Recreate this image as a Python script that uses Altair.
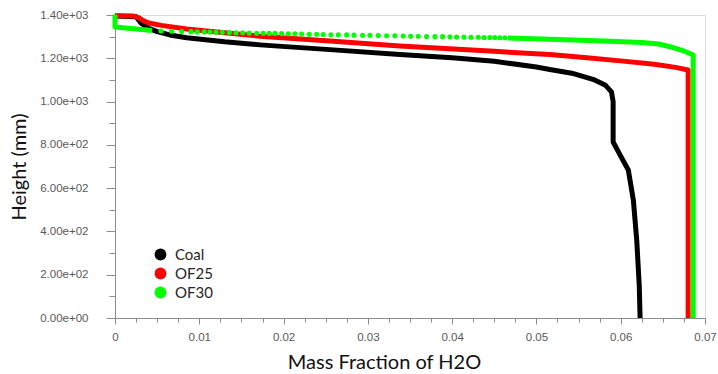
import altair as alt
import pandas as pd

series_names = ["Coal", "OF25", "OF30"]
series_colors = ["#000000", "#ff0000", "#00ff00"]

coal_x = [0.0, 0.0025, 0.0031, 0.0040, 0.0050, 0.0065, 0.0085, 0.0130, 0.0172, 0.0255, 0.0338, 0.0400,
          0.0450, 0.0500, 0.0516, 0.0542, 0.0569, 0.0582, 0.0589, 0.0591, 0.0591, 0.0600, 0.0609,
          0.0615, 0.0619, 0.0622, 0.0623]
coal_y = [1395, 1392, 1362, 1338, 1323, 1308, 1295, 1276, 1262, 1240, 1217, 1202,
          1186, 1160, 1148, 1131, 1100, 1075, 1045, 1000, 813, 748, 684,
          545, 360, 150, 0]

of25_x = [0.0, 0.0022, 0.0028, 0.0034, 0.0040, 0.0055, 0.0085, 0.0130, 0.0172, 0.0255, 0.0338, 0.0450,
          0.0516, 0.0560, 0.0600, 0.0640, 0.0665, 0.0680, 0.0680]
of25_y = [1397, 1395, 1388, 1373, 1363, 1352, 1335, 1318, 1302, 1280, 1257, 1232,
          1217, 1203, 1188, 1172, 1158, 1146, 0]

of30_head_x = [0.0, 0.0, 0.0044]
of30_head_y = [1402, 1345, 1328]

of30_dot_x = [0.00546, 0.00673, 0.00791, 0.00902, 0.00976, 0.01059, 0.01127, 0.01198, 0.01273, 0.01356,
              0.01435, 0.01515, 0.01593, 0.01681, 0.01759, 0.01830, 0.01898, 0.01977, 0.02056, 0.02135,
              0.02215, 0.02305, 0.02393, 0.02471, 0.02562, 0.02649, 0.02749, 0.02835, 0.02938, 0.03025,
              0.03123, 0.03223, 0.03321, 0.03420, 0.03508, 0.03598, 0.03697, 0.03796, 0.03887, 0.03974,
              0.04053, 0.04140, 0.04223, 0.04310, 0.04381, 0.04448, 0.04508, 0.04567, 0.04626]
of30_dot_y = [1326, 1325, 1324, 1323, 1322, 1322, 1321, 1320, 1320, 1319,
              1318, 1318, 1317, 1316, 1316, 1315, 1315, 1314, 1313, 1313,
              1312, 1311, 1311, 1310, 1309, 1309, 1308, 1307, 1306, 1306,
              1305, 1304, 1304, 1303, 1302, 1302, 1301, 1300, 1300, 1299,
              1298, 1298, 1297, 1297, 1296, 1296, 1296, 1295, 1295]

of30_tail_x = [0.0466, 0.0516, 0.0580, 0.0625, 0.0645, 0.0660, 0.0673, 0.0686, 0.0686]
of30_tail_y = [1294, 1288, 1280, 1273, 1266, 1252, 1237, 1215, 0]

x_tick_values = [round(i * 0.0025, 4) for i in range(29)]
y_tick_values = [i * 100 for i in range(15)]

rows = []
def add(name, part, xs, ys):
    for i, (a, b) in enumerate(zip(xs, ys)):
        rows.append({"series": name, "part": part, "x": a, "y": b, "i": i})

add("Coal", "a", coal_x, coal_y)
add("OF25", "a", of25_x, of25_y)
add("OF30", "a", of30_head_x, of30_head_y)
add("OF30", "b", of30_tail_x, of30_tail_y)
lines_df = pd.DataFrame(rows)
dots_df = pd.DataFrame({"series": "OF30", "x": of30_dot_x, "y": of30_dot_y})

color_scale = alt.Scale(domain=series_names, range=series_colors)

x_axis = alt.Axis(
    values=x_tick_values,
    labelExpr="abs(datum.value*100 - round(datum.value*100)) < 0.001 ? format(datum.value, '.2~f') : ''",
    tickSize={"condition": {"test": "abs(datum.value*100 - round(datum.value*100)) < 0.001", "value": 6}, "value": 4},
    grid=False, domainColor="#8c8c8c", tickColor="#8c8c8c", tickWidth=1,
    labelFont="Liberation Sans", labelFontSize=11.5, labelColor="#595959", labelPadding=7,
    labelFlush=False, labelOverlap=False,
    title="Mass Fraction of H2O", titleFont="Lato", titleFontSize=20, titleFontWeight="normal",
    titleColor="#111111", titlePadding=10, titleX=269, titleAlign="center",
)
y_axis = alt.Axis(
    values=y_tick_values,
    labelExpr="datum.value % 200 == 0 ? replace(format(datum.value, '.2e'), 'e+', 'e+0') : ''",
    tickSize={"condition": {"test": "datum.value % 200 == 0", "value": 9}, "value": 6},
    grid=False, domainColor="#8c8c8c", tickColor="#8c8c8c", tickWidth=1,
    labelFont="Liberation Sans", labelFontSize=11.5, labelColor="#595959", labelPadding=18,
    labelFlush=False, labelOverlap=False,
    title="Height (mm)", titleFont="Lato", titleFontSize=20, titleFontWeight="normal",
    titleColor="#111111", titlePadding=10,
)

x_enc = alt.X("x:Q", scale=alt.Scale(domain=[0, 0.07], nice=False, zero=False), axis=x_axis)
y_enc = alt.Y("y:Q", scale=alt.Scale(domain=[0, 1400], nice=False), axis=y_axis)

lines = alt.Chart(lines_df).mark_line(strokeWidth=5, strokeJoin="round", strokeCap="butt").encode(
    x=x_enc, y=y_enc,
    color=alt.Color("series:N", scale=color_scale, legend=None),
    detail="part:N",
    order="i:Q",
)

dots = alt.Chart(dots_df).mark_circle(size=26, opacity=1).encode(
    x=x_enc, y=y_enc,
    color=alt.Color("series:N", scale=color_scale, legend=alt.Legend(
        title=None, orient="none", legendX=38, legendY=232, padding=0,
        symbolType="circle", symbolSize=140, symbolStrokeWidth=0, symbolOpacity=1,
        labelFont="Lato", labelFontSize=15, labelColor="#262626", labelOffset=7,
        rowPadding=3,
    )),
)

chart = alt.layer(lines, dots).resolve_legend(color="independent").properties(
    width=590, height=303,
    padding={"left": 115, "top": 15, "right": 13, "bottom": 56},
    autosize=alt.AutoSizeParams(type="none"),
).configure_view(stroke=None).configure(background="white")

chart.save("out.html", embed_options={"renderer": "svg", "actions": False})
